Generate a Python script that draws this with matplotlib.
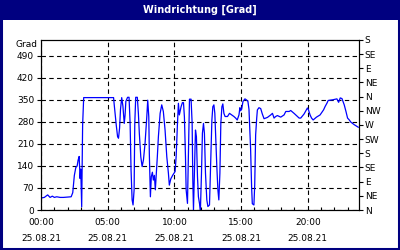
import matplotlib
matplotlib.use("Agg")
import matplotlib.pyplot as plt
from matplotlib.patches import Rectangle

NAVY = "#000080"

# time of day in hours, wind direction in degrees
hours = [0.00, 0.25, 0.50, 0.68, 0.85, 1.00, 1.18, 1.43, 1.68, 1.93, 2.26, 2.38, 2.50,
         2.61, 2.71, 2.78, 2.86, 2.93, 2.98, 3.05, 3.12, 3.20,
         5.44, 5.49, 5.64, 5.74, 5.81, 5.89, 5.96, 6.05, 6.14, 6.24, 6.30, 6.36, 6.49,
         6.60, 6.68, 6.75, 6.83, 6.90, 6.98, 7.03, 7.10, 7.22, 7.30, 7.37, 7.48, 7.58,
         7.68, 7.80, 7.93, 8.00, 8.08, 8.12, 8.20, 8.27, 8.35, 8.42, 8.50, 8.57, 8.65,
         8.72, 8.80, 8.93, 9.05, 9.17, 9.30, 9.43, 9.55, 9.62, 9.73, 9.88, 10.05, 10.13,
         10.23, 10.30, 10.37, 10.50, 10.60, 10.68, 10.75, 10.83, 10.88, 10.98, 11.05,
         11.13, 11.25, 11.33, 11.38, 11.43, 11.50, 11.58, 11.65, 11.73, 11.80, 11.88,
         11.95, 12.03, 12.10, 12.18, 12.25, 12.33, 12.43, 12.51, 12.63, 12.70, 12.81,
         12.88, 12.96, 13.03, 13.11, 13.18, 13.26, 13.33, 13.41, 13.48, 13.56, 13.63,
         13.71, 13.80, 13.98, 14.13, 14.29, 14.46, 14.59, 14.71,
         14.84, 14.91, 14.96, 15.04, 15.14, 15.24, 15.29, 15.39, 15.51, 15.59, 15.71,
         15.79, 15.84, 15.96, 16.02, 16.09, 16.17, 16.22, 16.34, 16.47, 16.59, 16.72,
         16.97, 17.22, 17.35, 17.47, 17.59, 17.72, 17.97, 18.22, 18.35, 18.60, 18.72,
         18.97, 19.22, 19.35, 19.47, 19.72, 19.97, 20.05, 20.17, 20.28, 20.40, 20.65,
         20.92, 21.18, 21.30, 21.43, 21.53, 21.86, 22.18, 22.31, 22.43, 22.56, 22.63,
         22.73, 22.86, 22.98, 23.11, 23.23, 23.48, 23.78]
degrees = [38, 40, 48, 40, 44, 40, 42, 40, 40, 41, 42, 55, 110,
           135, 140, 158, 170, 100, 130, 10, 270, 357,
           357, 334, 270, 233, 228, 260, 320, 357, 330, 275, 300, 345, 358,
           358, 275, 127, 32, 16, 64, 275, 358, 358, 307, 244, 169, 138,
           159, 212, 296, 349, 296, 180, 42, 106, 120, 95, 110, 64, 120,
           169, 233, 307, 334, 313, 254, 169, 117, 79, 99, 111, 122, 169,
           275, 339, 302, 328, 341, 341, 296, 169, 64, 21, 169,
           352, 352, 275, 95, 0, 117, 254, 233, 106, 42, 21,
           0, 117, 244, 275, 244, 117, 32, 11, 16, 117, 286,
           328, 334, 307, 212, 138, 64, 32, 117, 275, 328, 337,
           307, 297, 297, 307, 302, 297, 292, 286,
           302, 325, 315, 320, 345, 350, 353, 350, 345, 320, 196,
           70, 20, 16, 79, 239, 292, 318, 325, 322, 305, 290,
           294, 302, 307, 292, 297, 300, 295, 302, 313, 313, 316,
           307, 297, 292, 292, 305, 324, 318, 302, 292, 286, 295,
           302, 318, 329, 339, 348, 350, 353, 342, 356, 354, 346,
           334, 313, 292, 286, 279, 271, 263]

y_ticks = [0, 70, 140, 210, 280, 350, 420, 490]
compass = ["N", "NE", "E", "SE", "S", "SW", "W", "NW", "N", "NE", "E", "SE", "S"]
x_major = [0, 5, 10, 15, 20]
x_labels = ["00:00\n25.08.21", "05:00\n25.08.21", "10:00\n25.08.21",
            "15:00\n25.08.21", "20:00\n25.08.21"]

plt.rcParams["font.family"] = ["DejaVu Sans"]
plt.rcParams["font.size"] = 6.5

fig = plt.figure(figsize=(4, 2.5), dpi=100)
fig.patch.set_facecolor("white")

# title bar and frame
fig.patches.append(Rectangle((0, 0.92), 1, 0.08, transform=fig.transFigure,
                             facecolor=NAVY, edgecolor="none", zorder=0))
fig.patches.append(Rectangle((0.002, 0.004), 0.996, 0.992, transform=fig.transFigure,
                             facecolor="none", edgecolor=NAVY, linewidth=2.2, zorder=5))
fig.text(0.5, 0.96, "Windrichtung [Grad]", color="white", fontweight="bold",
         fontsize=7, ha="center", va="center")

ax = fig.add_axes([41 / 400, 0.16, 317.5 / 400, 0.68])
ax.plot(hours, degrees, color="#0000FF", linewidth=0.9)
ax.set_xlim(0, 23.8)
ax.set_ylim(0, 540)

ax.set_yticks(y_ticks)
ax.tick_params(axis="y", length=3, width=0.8, pad=2, colors="black")
ax.set_xticks(x_major)
ax.set_xticklabels(x_labels, linespacing=2.0)
ax.set_xticks(range(0, 24), minor=True)
ax.tick_params(axis="x", which="major", length=0, pad=6)
ax.tick_params(axis="x", which="minor", direction="in", length=2, width=0.8)
ax.grid(True, color="black", linestyle=(0, (4, 3)), linewidth=0.8)
for sp in ax.spines.values():
    sp.set_linewidth(0.8)

fig.text(37 / 400, 1 - 45 / 250, "Grad", ha="right", va="center")

ax2 = ax.twinx()
ax2.set_ylim(0, 540)
ax2.set_yticks(range(0, 541, 45))
ax2.set_yticklabels(compass)
ax2.tick_params(axis="y", length=3, width=0.8, pad=1.5)

fig.savefig("out.png", dpi=100)
